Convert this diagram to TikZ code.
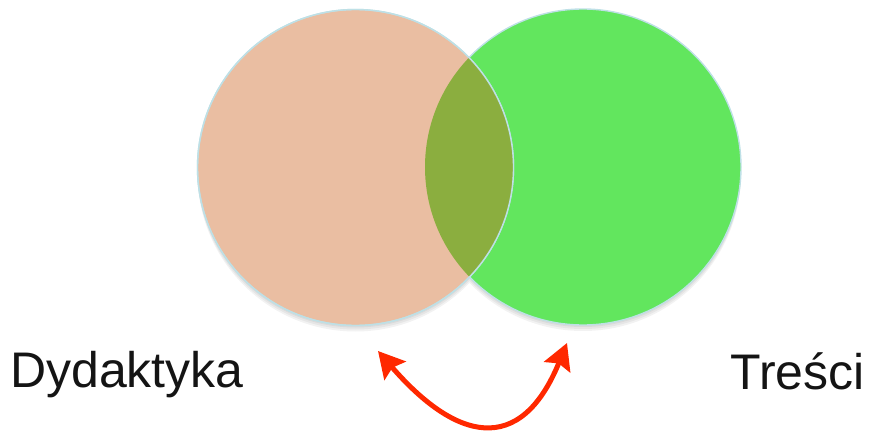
\documentclass[tikz,border=0pt]{standalone}
\usepackage{fontspec}
\setmainfont{Liberation Sans}
\usetikzlibrary{arrows.meta}

\definecolor{tanfill}{RGB}{234,190,162}
\definecolor{greenfill}{RGB}{98,230,94}
\definecolor{lensfill}{RGB}{139,174,63}
\definecolor{rimcolor}{RGB}{190,224,230}
\definecolor{arrowred}{RGB}{255,40,0}

\begin{document}
\begin{tikzpicture}[x=1pt,y=-1pt,>={Stealth[length=26pt,width=28pt,inset=4pt]},
  set node/.style={circle,inner sep=0pt,minimum size=316pt,draw=rimcolor,line width=1.4pt},
  label text/.style={font=\fontsize{50}{58}\selectfont,inner sep=0pt,text=black!92}]

  \useasboundingbox (0,0) rectangle (870,433);

  % soft shadow under the sets
  \foreach \s in {2,4,6}
    \fill[black,opacity=0.05] (583,167+\s) circle[radius=158pt] (355.5,167.5+\s) circle[radius=158pt];

  % the two sets
  \node[set node,fill=greenfill] (tresci) at (583,167) {};
  \node[set node,fill=tanfill] (dyd) at (355.5,167.5) {};
  \begin{scope}
    \clip (tresci.center) circle[radius=158pt];
    \fill[lensfill] (dyd.center) circle[radius=158pt];
  \end{scope}
  \draw[rimcolor,line width=1.4pt] (dyd.center) circle[radius=158pt];

  % labels
  \node[label text,anchor=base west] (dydlabel) at (10,387) {Dydaktyka};
  \node[label text,anchor=base east] (tresclabel) at (865,389) {Treści};

  % the link between them
  \coordinate (linkleft) at (378,351);
  \coordinate (linkright) at (567,343);
  \draw[<->,arrowred,line width=5pt] (linkleft) .. controls (455,440) and (520,458) .. (linkright);

\end{tikzpicture}
\end{document}
